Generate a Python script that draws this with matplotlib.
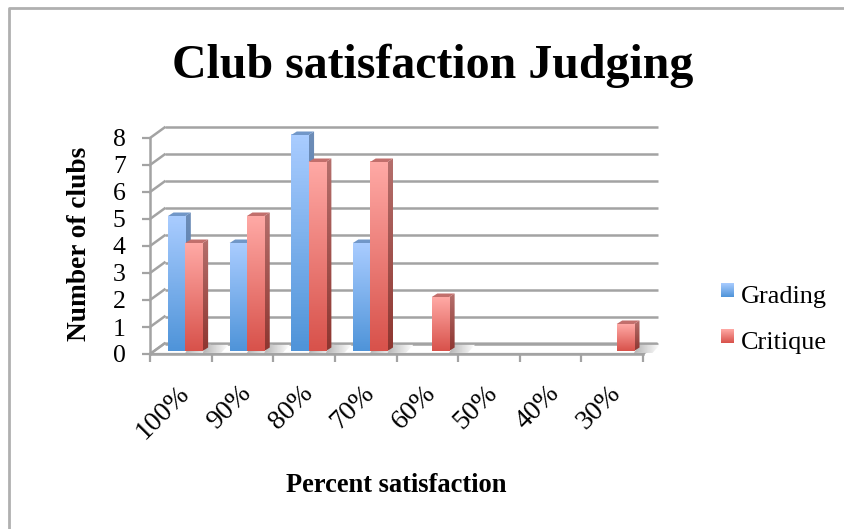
import numpy as np
import matplotlib
matplotlib.use("Agg")
import matplotlib.pyplot as plt
from matplotlib.colors import LinearSegmentedColormap
from matplotlib.patches import Polygon
from matplotlib.lines import Line2D
from matplotlib.transforms import ScaledTranslation

plt.rcParams["font.family"] = ["Liberation Serif", "DejaVu Serif"]

categories = ["100%", "90%", "80%", "70%", "60%", "50%", "40%", "30%"]
grading = [5, 4, 8, 4, 0, 0, 0, 0]
critique = [4, 5, 7, 7, 2, 0, 0, 1]

W, H = 844, 529
GRID = "#a3a3a3"
PX = 61.6   # px per category
PY = 27.0   # px per club

blue_cm = LinearSegmentedColormap.from_list("b", ["#a9ccff", "#4f94d9"])
red_cm = LinearSegmentedColormap.from_list("r", ["#ffa9a5", "#d8524b"])
shadow_cm = LinearSegmentedColormap.from_list("sh", ["#b4b4b4", "#ffffff"])
ramp = np.linspace(0, 1, 64).reshape(-1, 1)

fig = plt.figure(figsize=(W / 100, H / 100), dpi=100)
ax = fig.add_axes([150 / W, 1 - 354 / H, 493 / W, 216 / H])
ax.set_xlim(-0.5, 7.5)
ax.set_ylim(0, 8)
ax.patch.set_visible(False)

# depth of the wall and of the bars, in data units
wall_dx, wall_dy = 14.5 / PX, 10.5 / PY
bar_dx, bar_dy = 5.5 / PX, 3.5 / PY
base_dx, base_dy = 4.5 / PX, 3 / PY
bar_w = 17.3 / PX

# floor
ax.add_patch(Polygon([(-0.5, 0), (7.5, 0), (7.5 + wall_dx, wall_dy), (-0.5 + wall_dx, wall_dy)],
                     closed=True, fc="white", ec=GRID, lw=1.6, clip_on=False, zorder=1,
                     joinstyle="miter"))
# wall gridlines
for v in range(0, 9):
    ax.plot([-0.5 + wall_dx, 7.5 + wall_dx], [v + wall_dy, v + wall_dy], color=GRID, lw=1.8,
            clip_on=False, zorder=1, solid_capstyle="butt")
    ax.plot([-0.5, -0.5 + wall_dx], [v, v + wall_dy], color=GRID, lw=1.8, clip_on=False, zorder=1)


def clip_poly(im, pts):
    # imshow keeps the axes box as clip, drop it so the depth faces can stick out
    im.set_clip_path(Polygon(pts, closed=True, transform=ax.transData))
    im.set_clip_box(fig.bbox)


def draw_bar(x, v, cm, top_c, side_top, side_bot):
    x0 = x + base_dx
    y0 = base_dy
    y1 = v + base_dy
    # soft shadow on the floor, fades out to the right
    sh_x = x0 + bar_w
    sh_y0, sh_y1 = 0.04, wall_dy - 0.05
    sh = ax.imshow(ramp.T, cmap=shadow_cm, extent=(sh_x, sh_x + 0.42, sh_y0, sh_y1),
                   aspect="auto", zorder=2)
    clip_poly(sh, [(sh_x, sh_y0), (sh_x + 0.3, sh_y0), (sh_x + 0.42, sh_y1), (sh_x + 0.08, sh_y1)])
    bar = ax.bar(x0 + bar_w / 2, v, bar_w, bottom=y0, color="none", zorder=4, clip_on=False)[0]
    im = ax.imshow(ramp, cmap=cm, extent=(x0, x0 + bar_w, y0, y1), aspect="auto", origin="upper",
                   zorder=4)
    im.set_clip_path(bar)
    im.set_clip_box(fig.bbox)
    side = ax.imshow(ramp, cmap=LinearSegmentedColormap.from_list("s", [side_top, side_bot]),
                     extent=(x0 + bar_w, x0 + bar_w + bar_dx, y0, y1 + bar_dy), aspect="auto",
                     origin="upper", zorder=3)
    clip_poly(side, [(x0 + bar_w, y0), (x0 + bar_w + bar_dx, y0 + bar_dy),
                     (x0 + bar_w + bar_dx, y1 + bar_dy), (x0 + bar_w, y1)])
    ax.add_patch(Polygon([(x0, y1), (x0 + bar_w, y1), (x0 + bar_w + bar_dx, y1 + bar_dy),
                          (x0 + bar_dx, y1 + bar_dy)], closed=True, fc=top_c, ec="none",
                         clip_on=False, zorder=4))


for i in range(len(categories)):
    if grading[i] > 0:
        draw_bar(i - bar_w, grading[i], blue_cm, "#7197c8", "#6d8db8", "#47709f")
    if critique[i] > 0:
        draw_bar(i, critique[i], red_cm, "#c26f6c", "#b56f6c", "#8e3630")

ax.set_xlim(-0.5, 7.5)
ax.set_ylim(0, 8)

for s in ["top", "right"]:
    ax.spines[s].set_visible(False)
for s in ["left", "bottom"]:
    ax.spines[s].set_color(GRID)
    ax.spines[s].set_linewidth(1.8)

ax.set_yticks(range(0, 9))
ax.set_xticks(np.arange(-0.5, 8, 1))
ax.set_xticklabels([])
ax.tick_params(axis="both", which="major", color=GRID, width=1.6, length=5.5, direction="out")
ax.tick_params(axis="y", labelsize=18.5, pad=12)
ax.set_xticks(np.arange(8), minor=True)
ax.set_xticklabels(categories, minor=True, rotation=45, ha="right", rotation_mode="anchor", fontsize=20)
ax.tick_params(axis="x", which="minor", length=0, pad=19)
shift = ScaledTranslation(-4 / 100, 0, fig.dpi_scale_trans)
for lab in ax.get_xticklabels(minor=True):
    lab.set_transform(lab.get_transform() + shift)

fig.text(433 / W, 1 - 66 / H, "Club satisfaction Judging", fontsize=34.5, fontweight="bold",
         ha="center", va="center", color="black")
fig.text(80 / W, 1 - 244 / H, "Number of clubs", fontsize=19.7, fontweight="bold", rotation=90,
         ha="center", va="center")
fig.text(396 / W, 1 - 486 / H, "Percent satisfaction", fontsize=19.1, fontweight="bold",
         ha="center", va="center")

# legend
for name, cm, y in [("Grading", blue_cm, 283), ("Critique", red_cm, 329)]:
    sw = fig.add_axes([721 / W, 1 - (y + 14) / H, 13 / W, 14 / H])
    sw.imshow(ramp, cmap=cm, aspect="auto")
    sw.axis("off")
    fig.text(741 / W, 1 - (y + 13.5) / H, name, fontsize=18.9, ha="left", va="center")

# slide frame
fig.add_artist(Line2D([8.5 / W, 8.5 / W, 1], [0, 1 - 8 / H, 1 - 8 / H], color="#b0b0b0", lw=2))

fig.savefig("out.png", dpi=100)
